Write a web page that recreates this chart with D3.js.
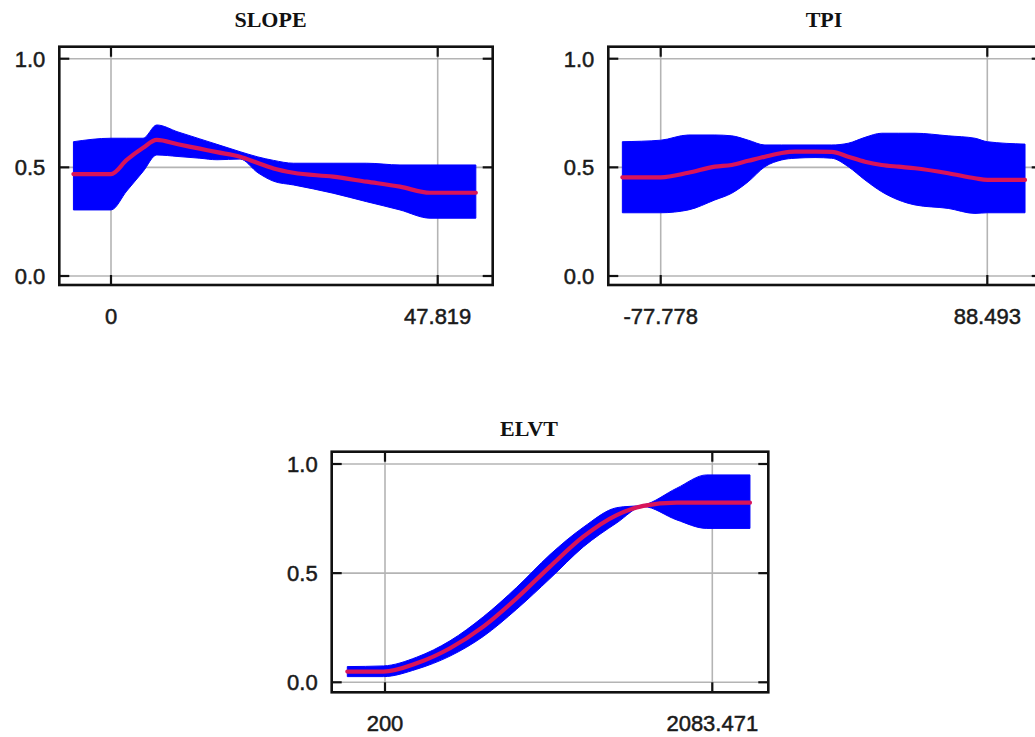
<!DOCTYPE html>
<html><head><meta charset="utf-8">
<script src="https://cdn.jsdelivr.net/npm/d3@7"></script>
<style>body{margin:0;background:#fff}svg{display:block}</style>
</head><body><svg id="c" width="1035" height="737"></svg>
<script>
// ---- data ----
const yTicks = [0, 0.5, 1.0];

const slopeTicks = [0, 47.819];
const slopeTickLabels = ["0", "47.819"];
const slopeX    = [-5.5, 0, 2.3, 4.7, 6.7, 9.8, 13.0, 15.5, 18.9, 21.5, 23.8, 26.7, 32.5, 37.4, 42.3, 46.7, 53.4];
const slopeMean = [0.469, 0.469, 0.534, 0.59, 0.626, 0.606, 0.586, 0.570, 0.549, 0.52, 0.495, 0.475, 0.457, 0.434, 0.411, 0.383, 0.383];
const slopeHigh = [0.618, 0.634, 0.634, 0.634, 0.695, 0.663, 0.631, 0.606, 0.572, 0.548, 0.532, 0.519, 0.519, 0.519, 0.511, 0.511, 0.511];
const slopeLow  = [0.304, 0.304, 0.391, 0.481, 0.557, 0.55, 0.542, 0.535, 0.538, 0.475, 0.436, 0.419, 0.381, 0.342, 0.304, 0.266, 0.266];

const tpiTicks = [-77.778, 88.493];
const tpiTickLabels = ["-77.778", "88.493"];
const tpiX    = [-97.3, -77.78, -63.7, -50.2, -41.6, -33.2, -24.7, -16.2, -9.4, 0.8, 9.3, 17.7, 26.2, 34.7, 43.2, 51.7, 68.6, 82.2, 88.5, 107.7];
const tpiMean = [0.454, 0.454, 0.475, 0.503, 0.511, 0.530, 0.549, 0.566, 0.572, 0.572, 0.571, 0.549, 0.526, 0.511, 0.503, 0.496, 0.473, 0.450, 0.442, 0.442];
const tpiHigh = [0.618, 0.625, 0.649, 0.649, 0.645, 0.625, 0.603, 0.603, 0.603, 0.603, 0.603, 0.611, 0.638, 0.657, 0.657, 0.657, 0.645, 0.634, 0.618, 0.607];
const tpiLow  = [0.291, 0.291, 0.304, 0.350, 0.381, 0.434, 0.503, 0.534, 0.542, 0.545, 0.542, 0.503, 0.442, 0.388, 0.350, 0.327, 0.311, 0.288, 0.291, 0.291];

const elvtTicks = [200, 2083.471];
const elvtTickLabels = ["200", "2083.471"];
const elvtX    = [-16.9, 190.4, 382.2, 574.0, 765.6, 957.8, 1149.4, 1341.0, 1533.2, 1686.3, 1878.5, 2051.1, 2300.2];
const elvtMean = [0.049, 0.049, 0.087, 0.156, 0.255, 0.385, 0.530, 0.667, 0.766, 0.808, 0.823, 0.823, 0.823];
const elvtHigh = [0.072, 0.075, 0.115, 0.19, 0.30, 0.435, 0.585, 0.71, 0.80, 0.812, 0.889, 0.950, 0.950];
const elvtLow  = [0.026, 0.026, 0.06, 0.12, 0.21, 0.335, 0.475, 0.62, 0.73, 0.805, 0.744, 0.705, 0.705];

// ---- layout ----
const panels = [
  {title:"SLOPE", frame:[59.3,46.7,492.7,285], xr:[111,437.7], yr:[276,58.7], tx:270.5, ty:27,
   ticks:slopeTicks, labels:slopeTickLabels, X:slopeX, M:slopeMean, H:slopeHigh, L:slopeLow},
  {title:"TPI", frame:[608.3,46.7,1041.7,285], xr:[660.7,987.3], yr:[276,58.7], tx:824, ty:27,
   ticks:tpiTicks, labels:tpiTickLabels, X:tpiX, M:tpiMean, H:tpiHigh, L:tpiLow},
  {title:"ELVT", frame:[331.7,451.7,768.3,692.3], xr:[385,712.3], yr:[682.3,464], tx:529, ty:436,
   ticks:elvtTicks, labels:elvtTickLabels, X:elvtX, M:elvtMean, H:elvtHigh, L:elvtLow}
];

const svg = d3.select("#c");
svg.append("rect").attr("width",1035).attr("height",737).attr("fill","#fff");

const tickFont = "'Liberation Sans', Arial, sans-serif";

panels.forEach(p => {
  const [fx0,fy0,fx1,fy1] = p.frame;
  const x = d3.scaleLinear().domain(p.ticks).range(p.xr);
  const y = d3.scaleLinear().domain([0,1]).range(p.yr);
  const g = svg.append("g");

  // grid
  g.selectAll(".hg").data(yTicks).join("line")
    .attr("x1",fx0).attr("x2",fx1).attr("y1",d=>y(d)).attr("y2",d=>y(d))
    .attr("stroke","#b4b4b4").attr("stroke-width",1.6);
  g.selectAll(".vg").data(p.ticks).join("line")
    .attr("x1",d=>x(d)).attr("x2",d=>x(d)).attr("y1",fy0).attr("y2",fy1)
    .attr("stroke","#b4b4b4").attr("stroke-width",1.6);

  const pts = p.X.map((v,i)=>({x:v,m:p.M[i],h:p.H[i],l:p.L[i]}));
  g.append("path").datum(pts)
    .attr("d", d3.area().x(d=>x(d.x)).y0(d=>y(d.l)).y1(d=>y(d.h)).curve(d3.curveMonotoneX))
    .attr("fill","#0000ff").attr("stroke","#0000ff").attr("stroke-width",1);
  g.append("path").datum(pts)
    .attr("d", d3.line().x(d=>x(d.x)).y(d=>y(d.m)).curve(d3.curveMonotoneX))
    .attr("fill","none").attr("stroke","#d8145a").attr("stroke-width",4.2)
    .attr("stroke-linecap","round").attr("stroke-linejoin","round");

  // ticks (inward)
  const tl = 10;
  g.selectAll(".lt").data(yTicks).join("line")
    .attr("x1",fx0).attr("x2",fx0+tl).attr("y1",d=>y(d)).attr("y2",d=>y(d))
    .attr("stroke","#111").attr("stroke-width",2.2);
  g.selectAll(".rt").data(yTicks).join("line")
    .attr("x1",fx1).attr("x2",fx1-tl).attr("y1",d=>y(d)).attr("y2",d=>y(d))
    .attr("stroke","#111").attr("stroke-width",2.2);
  g.selectAll(".tt").data(p.ticks).join("line")
    .attr("x1",d=>x(d)).attr("x2",d=>x(d)).attr("y1",fy0).attr("y2",fy0+tl)
    .attr("stroke","#111").attr("stroke-width",2.2);
  g.selectAll(".bt").data(p.ticks).join("line")
    .attr("x1",d=>x(d)).attr("x2",d=>x(d)).attr("y1",fy1).attr("y2",fy1-tl)
    .attr("stroke","#111").attr("stroke-width",2.2);

  // frame
  g.append("rect").attr("x",fx0).attr("y",fy0).attr("width",fx1-fx0).attr("height",fy1-fy0)
    .attr("fill","none").attr("stroke","#111").attr("stroke-width",2.6);

  // y labels
  g.selectAll(".yl").data(yTicks).join("text")
    .attr("x",fx0-14).attr("y",d=>y(d)).attr("dy","0.36em")
    .attr("text-anchor","end")
    .style("font-family",tickFont).style("font-size","22px")
    .attr("fill","#1a1a1a").attr("stroke","#1a1a1a").attr("stroke-width",0.5)
    .text(d=>d3.format(".1f")(d));
  // x labels
  g.selectAll(".xl").data(p.ticks).join("text")
    .attr("x",d=>x(d)).attr("y",fy1+39)
    .attr("text-anchor","middle")
    .style("font-family",tickFont).style("font-size","22px")
    .attr("fill","#1a1a1a").attr("stroke","#1a1a1a").attr("stroke-width",0.5)
    .text((d,i)=>p.labels[i]);
  // title
  g.append("text").attr("x",p.tx).attr("y",p.ty).attr("text-anchor","middle")
    .style("font-family","'Liberation Serif','Times New Roman',serif").style("font-size","22px")
    .style("font-weight","bold").attr("fill","#111").text(p.title);
});
</script></body></html>
